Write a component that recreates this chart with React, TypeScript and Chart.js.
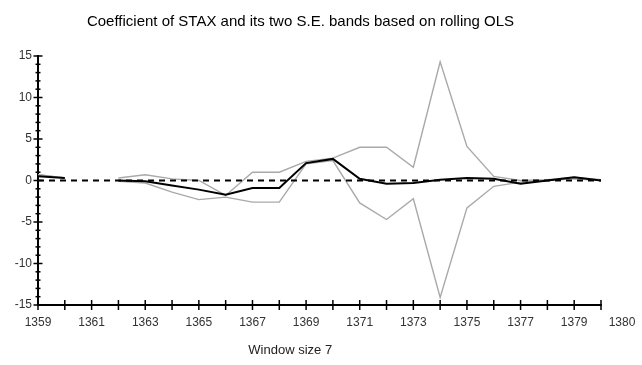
import React, { useEffect, useRef } from 'react';
import { Chart, registerables } from 'chart.js';

Chart.register(...registerables);

const years = [1359, 1360, 1361, 1362, 1363, 1364, 1365, 1366, 1367, 1368, 1369, 1370, 1371, 1372, 1373, 1374, 1375, 1376, 1377, 1378, 1379, 1380];
const coefficient = [0.5, 0.3, null, 0.0, -0.1, -0.6, -1.1, -1.7, -0.9, -0.9, 2.1, 2.6, 0.2, -0.4, -0.3, 0.1, 0.3, 0.2, -0.4, 0.0, 0.4, 0.0];
const upperBand = [0.7, 0.3, null, 0.3, 0.7, 0.2, 0.0, -1.8, 1.0, 1.0, 2.3, 2.7, 4.0, 4.0, 1.6, 14.3, 4.1, 0.5, 0.0, 0.1, 0.4, 0.1];
const lowerBand = [0.7, 0.3, null, -0.1, -0.3, -1.4, -2.3, -2.0, -2.6, -2.6, 2.0, 2.4, -2.7, -4.7, -2.2, -14.1, -3.3, -0.7, -0.2, 0.0, 0.2, 0.0];
const zeroLine = [0, 0, 0, 0, 0, 0, 0, 0, 0, 0, 0, 0, 0, 0, 0, 0, 0, 0, 0, 0, 0, 0];
const yMajorTicks = [-15, -10, -5, 0, 5, 10, 15];
const titleText = 'Coefficient of STAX and its two S.E. bands based on rolling OLS';
const xTitleText = 'Window size 7';
const lastXLabel = '1380';

const FONT = '"Liberation Sans", Arial, sans-serif';

const toPoints = (vals: (number | null)[]) => years.map((yr, i) => ({ x: yr, y: vals[i] }));

const axisDecor = {
  id: 'axisDecor',
  afterDraw(chart: any) {
    const { ctx, chartArea, scales } = chart;
    const x = scales.x;
    const y = scales.y;
    ctx.save();
    ctx.strokeStyle = '#000';
    ctx.lineWidth = 1.5;
    x.ticks.forEach((t: any) => {
      const px = x.getPixelForValue(t.value);
      ctx.beginPath();
      ctx.moveTo(px, chartArea.bottom - 5);
      ctx.lineTo(px, chartArea.bottom + 5);
      ctx.stroke();
    });
    y.ticks.forEach((t: any) => {
      const py = y.getPixelForValue(t.value);
      const major = yMajorTicks.includes(t.value);
      const half = major ? 4.5 : 2.5;
      ctx.beginPath();
      ctx.moveTo(chartArea.left - half, py);
      ctx.lineTo(chartArea.left + half, py);
      ctx.stroke();
    });
    ctx.fillStyle = '#333';
    ctx.font = `12px ${FONT}`;
    ctx.textAlign = 'center';
    ctx.textBaseline = 'middle';
    ctx.fillText(lastXLabel, x.right + 21, chartArea.bottom + 18);
    ctx.fillStyle = '#222';
    ctx.font = `13px ${FONT}`;
    ctx.fillText(xTitleText, chartArea.left + chartArea.width * 0.448, 350);
    ctx.restore();
  },
};

export default function App() {
  const canvasRef = useRef<HTMLCanvasElement | null>(null);

  useEffect(() => {
    document.body.style.margin = '0';
    const canvas = canvasRef.current;
    if (!canvas) return;
    const chart = new Chart(canvas, {
      type: 'line',
      data: {
        datasets: [
          {
            label: 'Upper band',
            data: toPoints(upperBand),
            borderColor: '#a9a9a9',
            borderWidth: 1.4,
            pointRadius: 0,
            fill: false,
            tension: 0,
            spanGaps: false,
            order: 4,
          },
          {
            label: 'Lower band',
            data: toPoints(lowerBand),
            borderColor: '#a9a9a9',
            borderWidth: 1.4,
            pointRadius: 0,
            fill: false,
            tension: 0,
            spanGaps: false,
            order: 3,
          },
          {
            label: 'Coefficient',
            data: toPoints(coefficient),
            borderColor: '#000',
            borderWidth: 2,
            pointRadius: 0,
            fill: false,
            tension: 0,
            spanGaps: false,
            order: 2,
          },
          {
            label: 'Zero',
            data: toPoints(zeroLine),
            borderColor: '#000',
            borderWidth: 2,
            borderDash: [6, 5],
            pointRadius: 0,
            fill: false,
            tension: 0,
            order: 1,
          },
        ],
      },
      options: {
        responsive: false,
        animation: false,
        devicePixelRatio: 1,
        layout: { padding: { left: 0, right: 41, top: 0, bottom: 0 } },
        plugins: {
          legend: { display: false },
          tooltip: { enabled: false },
          title: {
            display: true,
            text: titleText,
            color: '#000',
            font: { family: FONT, size: 15, weight: 'normal' },
            padding: { top: 13, bottom: 25 },
          },
        },
        scales: {
          x: {
            type: 'linear',
            min: 1359,
            max: 1380,
            grid: { display: false, drawTicks: false },
            border: { display: true, color: '#000', width: 2 },
            ticks: {
              stepSize: 1,
              autoSkip: false,
              maxRotation: 0,
              padding: 10,
              color: '#333',
              font: { family: FONT, size: 12 },
              callback: (v: any) => {
                const n = Number(v);
                return (n - 1359) % 2 === 0 && n < 1380 ? String(n) : '';
              },
            },
            afterFit: (s: any) => {
              s.height = 60;
            },
          },
          y: {
            type: 'linear',
            min: -15,
            max: 15,
            grid: { display: false, drawTicks: false },
            border: { display: true, color: '#000', width: 2 },
            ticks: {
              stepSize: 1,
              autoSkip: false,
              padding: 6,
              color: '#333',
              font: { family: FONT, size: 12 },
              callback: (v: any) => (yMajorTicks.includes(Number(v)) ? String(v) : ''),
            },
            afterFit: (s: any) => {
              s.width = 38;
            },
          },
        },
      },
      plugins: [axisDecor],
    });
    return () => chart.destroy();
  }, []);

  return (
    <div style={{ width: 642, height: 365, background: '#fff' }}>
      <canvas ref={canvasRef} width={642} height={365} />
    </div>
  );
}
